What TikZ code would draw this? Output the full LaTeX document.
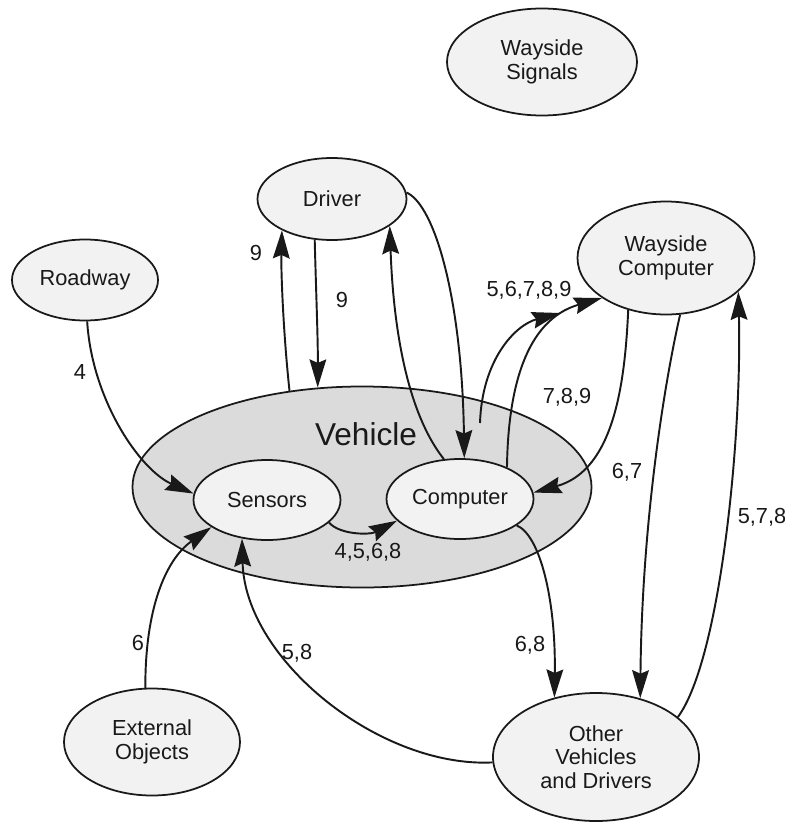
\documentclass[tikz,border=0pt]{standalone}
\usepackage{fontspec}
\setmainfont{Liberation Sans}
\usetikzlibrary{shapes.geometric,arrows.meta}

\begin{document}
\begin{tikzpicture}[x=0.2mm, y=-0.2mm]
	\tikzset{bulle/.style={ellipse, draw=black!90, line width=1pt, fill=black!5, inner sep=0pt, align=center, text=black!90, font=\fontsize{12.4}{13.5}\selectfont}, lien/.style={-{Stealth[length=16pt, width=9.5pt, inset=2pt]}, line width=1.1pt, draw=black!90}, etiq/.style={text=black!90, font=\fontsize{12.4}{13.5}\selectfont}};

	\useasboundingbox (0,0) rectangle (784,828);

	% le vehicule et ce qu'il contient
	\node[bulle, fill=black!14, minimum width=9.18cm, minimum height=4.02cm] (vehicle) at (362,487) {};
	\node[etiq, font=\fontsize{18}{20}\selectfont] (vtitre) at (366,434) {Vehicle};
	\node[bulle, minimum width=2.94cm, minimum height=1.60cm] (sensors)  at (267,500) {Sensors};
	\node[bulle, minimum width=2.94cm, minimum height=1.60cm] (computer) at (460,499) {Computer};

	% le reste du monde
	\node[bulle, minimum width=3.80cm, minimum height=2.14cm] (wsignals)  at (542, 62) {Wayside\\Signals};
	\node[bulle, minimum width=2.98cm, minimum height=1.64cm] (driver)    at (332,199) {Driver};
	\node[bulle, minimum width=2.92cm, minimum height=1.62cm] (roadway)   at ( 85,280) {Roadway};
	\node[bulle, minimum width=3.54cm, minimum height=2.26cm] (wcomputer) at (666,258) {Wayside\\Computer};
	\node[bulle, minimum width=4.12cm, minimum height=2.56cm] (others)    at (596,757) {Other\\Vehicles\\and Drivers};
	\node[bulle, minimum width=3.52cm, minimum height=2.14cm] (external)  at (152,742) {External\\Objects};

	\coordinate (vdepart) at (480,423);
	\coordinate (vpointe) at (560,313);

	\draw[lien] (roadway.273)   .. controls ( 92,400) and (140,470) .. (sensors.175);
	\draw[lien] (vehicle.127)   .. controls (283,330) and (281,270) .. (driver.212);
	\draw[lien] (driver.247)    .. controls (316,290) and (318,340) .. (vehicle.114);
	\draw[lien] (computer.112)  .. controls (405,410) and (393,320) .. (driver.335);
	\draw[lien] (driver.5)      .. controls (435,205) and (462,300) .. (computer.84);
	\draw[lien] (vdepart)       .. controls (482,360) and (515,325) .. (vpointe);
	\draw[lien] (computer.34)   .. controls (508,390) and (525,320) .. (wcomputer.212);
	\draw[lien] (wcomputer.234) .. controls (625,380) and (615,470) .. (computer.5);
	\draw[lien] (wcomputer.284) .. controls (665,380) and (642,520) .. (others.53);
	\draw[lien] (others.26)     .. controls (720,660) and (742,440) .. (wcomputer.335);
	\draw[lien] (computer.335)  .. controls (540,535) and (556,600) .. (others.125);
	\draw[lien] (others.183)    .. controls (380,768) and (245,660) .. (sensors.237);
	\draw[lien] (external.97)   .. controls (145,610) and (165,560) .. (sensors.206);
	\draw[lien] (sensors.340)   .. controls (340,535) and (370,535) .. (computer.199);

	% numeros des flux
	\node[etiq] (n4)     at ( 80,372) {4};
	\node[etiq] (n9a)    at (256,253) {9};
	\node[etiq] (n9b)    at (342,300) {9};
	\node[etiq] (n56789) at (529,290) {5,6,7,8,9};
	\node[etiq] (n789)   at (567,397) {7,8,9};
	\node[etiq] (n67)    at (627,472) {6,7};
	\node[etiq] (n578)   at (762,517) {5,7,8};
	\node[etiq] (n68)    at (530,645) {6,8};
	\node[etiq] (n58)    at (297,653) {5,8};
	\node[etiq] (n6)     at (138,643) {6};
	\node[etiq] (n4568)  at (368,552) {4,5,6,8};

\end{tikzpicture}
\end{document}
